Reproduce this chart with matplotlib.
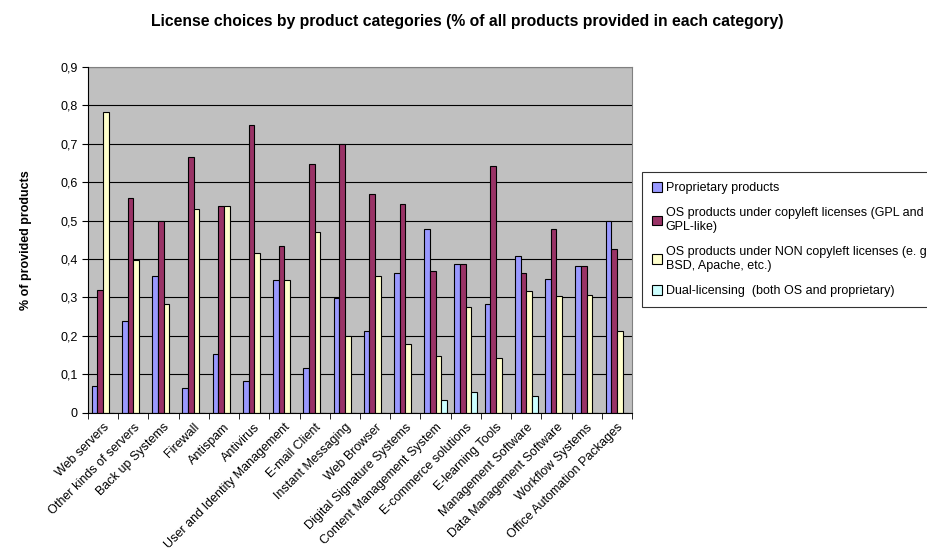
"""License choices by product category - grouped bar chart (Excel style)."""

import matplotlib.pyplot as plt
import numpy as np
from matplotlib.patches import Patch
from matplotlib.ticker import FixedLocator, FuncFormatter

plt.rcParams["font.family"] = ["Liberation Sans", "DejaVu Sans"]

categories = [
    "Web servers",
    "Other kinds of servers",
    "Back up Systems",
    "Firewall",
    "Antispam",
    "Antivirus",
    "User and Identity Management",
    "E-mail Client",
    "Instant Messaging",
    "Web Browser",
    "Digital Signature Systems",
    "Content Management System",
    "E-commerce solutions",
    "E-learning Tools",
    "Management Software",
    "Data Management Software",
    "Workflow Systems",
    "Office Automation Packages",
]

proprietary = [0.069, 0.238, 0.355, 0.065, 0.152, 0.082, 0.346, 0.116, 0.299,
               0.212, 0.363, 0.479, 0.387, 0.284, 0.408, 0.347, 0.382, 0.498]
copyleft = [0.320, 0.558, 0.498, 0.665, 0.537, 0.749, 0.433, 0.646, 0.698,
            0.569, 0.543, 0.369, 0.387, 0.641, 0.363, 0.477, 0.382, 0.427]
non_copyleft = [0.783, 0.398, 0.284, 0.531, 0.537, 0.415, 0.346, 0.469, 0.199,
                0.355, 0.180, 0.147, 0.276, 0.142, 0.317, 0.303, 0.306, 0.212]
dual = [0, 0, 0, 0, 0, 0, 0, 0, 0,
        0, 0, 0.035, 0.054, 0, 0.043, 0, 0, 0]

series_labels = [
    "Proprietary products",
    "OS products under copyleft licenses (GPL and\nGPL-like)",
    "OS products under NON copyleft licenses (e. g.\nBSD, Apache, etc.)",
    "Dual-licensing  (both OS and proprietary)",
]
colors = ["#9999FF", "#993366", "#FFFFCC", "#CCFFFF"]

fig = plt.figure(figsize=(9.27, 5.59), dpi=100)
ax = fig.add_axes([0.0949, 0.2612, 0.5869, 0.6198])
ax.set_facecolor("#C0C0C0")

x = np.arange(len(categories))
w = 0.1875
for k, vals in enumerate([proprietary, copyleft, non_copyleft, dual]):
    ax.bar(x + (k - 1.5) * w, vals, width=w, color=colors[k],
           edgecolor="black", linewidth=0.8, zorder=3)

ax.set_xlim(-0.5, len(categories) - 0.5)
ax.set_ylim(0, 0.9)
ax.yaxis.set_major_locator(FixedLocator(np.arange(0, 0.91, 0.1)))
ax.yaxis.set_major_formatter(
    FuncFormatter(lambda v, p: "0" if abs(v) < 1e-9 else f"{v:.1f}".replace(".", ","))
)
ax.grid(axis="y", color="black", linewidth=0.8, zorder=1)

ax.set_xticks(x)
ax.set_xticklabels(categories, rotation=45, ha="right", va="top",
                   rotation_mode="anchor", fontsize=9)
ax.tick_params(axis="x", which="major", length=0, pad=6)
ax.set_xticks(np.arange(-0.5, len(categories)), minor=True)
ax.tick_params(axis="x", which="minor", length=4, color="black")
ax.tick_params(axis="y", length=4, labelsize=9, color="black")

for side in ["top", "right"]:
    ax.spines[side].set_color("#808080")
for side in ["left", "bottom"]:
    ax.spines[side].set_color("black")
    ax.spines[side].set_zorder(4)

ax.set_ylabel("% of provided products", fontsize=9, fontweight="bold", labelpad=20)

fig.text(0.5045, 0.961, "License choices by product categories "
         "(% of all products provided in each category)",
         ha="center", va="center", fontsize=11.3, fontweight="bold")

handles = [Patch(facecolor=c, edgecolor="black", linewidth=0.8) for c in colors]
leg = fig.legend(handles, series_labels, loc="upper left",
                 bbox_to_anchor=(642 / 927, 1 - 172 / 559), fontsize=9,
                 frameon=True, fancybox=False, edgecolor="black",
                 handlelength=0.8, handleheight=0.8, handletextpad=0.3,
                 labelspacing=1.05, borderpad=0.8, borderaxespad=0)
leg.get_frame().set_linewidth(0.8)

plt.savefig("out.png", dpi=100)
